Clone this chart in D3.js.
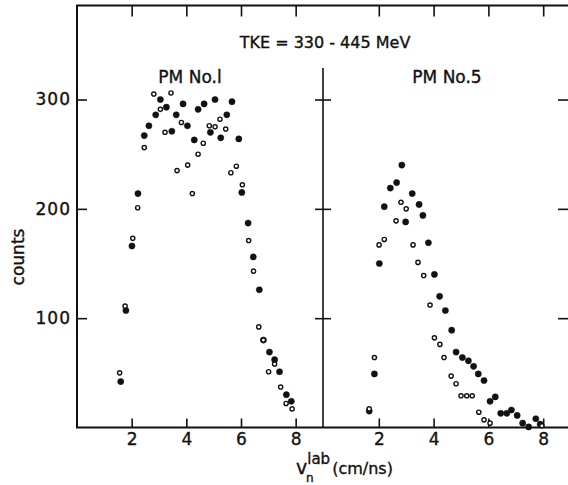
<!DOCTYPE html>
<html>
<head>
<meta charset="utf-8">
<script src="https://cdn.jsdelivr.net/npm/d3@7"></script>
<style>
body { margin: 0; background: #fff; }
svg text { font-family: "DejaVu Sans", sans-serif; fill: #111; stroke: #111; stroke-width: 0.35; }
</style>
</head>
<body>
<script>
// velocity ticks shared by both panels
var vTicks = [2, 4, 6, 8];
var countTicks = [100, 200, 300];

// PM No.1 : [v (cm/ns), counts]
var pm1Filled = [
  [1.60, 42], [1.79, 107], [2.01, 166], [2.23, 214], [2.46, 267], [2.63, 276],
  [2.88, 286], [3.05, 300], [3.27, 293], [3.47, 271], [3.63, 286], [3.88, 296],
  [4.04, 276], [4.29, 263], [4.43, 291], [4.65, 296], [4.88, 270], [5.05, 300],
  [5.26, 265], [5.48, 286], [5.67, 298], [5.92, 264], [6.03, 215], [6.26, 187],
  [6.45, 156], [6.67, 126], [6.82, 80], [7.04, 69], [7.23, 62], [7.41, 51],
  [7.66, 30], [7.84, 24]
];
var pm1Open = [
  [1.56, 50], [1.76, 111], [2.04, 173], [2.22, 201], [2.46, 256], [2.81, 305],
  [3.05, 291], [3.22, 270], [3.44, 306], [3.66, 235], [3.82, 279], [4.05, 240],
  [4.22, 214], [4.43, 250], [4.62, 260], [4.84, 276], [5.05, 275], [5.23, 282],
  [5.44, 273], [5.63, 233], [5.83, 239], [6.05, 222], [6.28, 171], [6.46, 143],
  [6.65, 92], [6.82, 80], [7.01, 51], [7.23, 58], [7.45, 37], [7.65, 22], [7.87, 17]
];

// PM No.5
var pm5Filled = [
  [1.65, 15], [1.84, 49], [2.02, 150], [2.20, 202], [2.42, 219], [2.65, 224],
  [2.84, 240], [2.98, 188], [3.22, 214], [3.47, 204], [3.61, 194], [3.81, 169],
  [4.03, 140], [4.22, 120], [4.43, 107], [4.66, 89], [4.82, 69], [5.05, 64],
  [5.27, 61], [5.46, 56], [5.63, 49], [5.84, 43], [6.06, 24], [6.25, 28],
  [6.45, 13], [6.67, 13], [6.84, 16], [7.05, 11], [7.25, 4], [7.47, 0.5],
  [7.73, 8], [7.89, 3]
];
var pm5Open = [
  [1.65, 17], [1.84, 64], [2.01, 167], [2.20, 172], [2.63, 189], [2.81, 206],
  [3.00, 200], [3.25, 167], [3.43, 151], [3.64, 139], [3.87, 112], [4.03, 82],
  [4.23, 76], [4.38, 64], [4.64, 47], [4.82, 40], [5.00, 29], [5.21, 29],
  [5.41, 29], [5.65, 14], [5.84, 7], [6.06, 4], [7.95, 1.5]
];

var width = 568, height = 485;

var svg = d3.select("body").append("svg")
    .attr("width", width)
    .attr("height", height);

var y = d3.scaleLinear().domain([0, 386]).range([427.5, 5.5]);
var xL = d3.scaleLinear().domain([0, 9]).range([77, 323]);
var xR = d3.scaleLinear().domain([0, 9]).range([324, 570.6]);

var ink = "#111";

// frame
svg.append("line").attr("x1", 77).attr("x2", 77).attr("y1", y(386)).attr("y2", y(0))
    .attr("stroke", ink).attr("stroke-width", 2);
svg.append("line").attr("x1", 76).attr("x2", 568).attr("y1", y(386)).attr("y2", y(386))
    .attr("stroke", ink).attr("stroke-width", 2);
svg.append("line").attr("x1", 76).attr("x2", 568).attr("y1", y(0)).attr("y2", y(0))
    .attr("stroke", ink).attr("stroke-width", 2);
// divider between panels
svg.append("line").attr("x1", 323).attr("x2", 323).attr("y1", 68).attr("y2", y(0))
    .attr("stroke", ink).attr("stroke-width", 1.6);

function styleAxis(g) {
  g.select(".domain").remove();
  g.selectAll(".tick line").attr("stroke", ink).attr("stroke-width", 1.6);
  g.selectAll(".tick text").attr("font-size", 17).attr("fill", ink)
    .attr("font-family", "DejaVu Sans, sans-serif");
}

// bottom and top axes
[xL, xR].forEach(function (x) {
  svg.append("g")
      .attr("transform", "translate(0," + y(0) + ")")
      .call(d3.axisBottom(x).tickValues(vTicks).tickSize(-9).tickSizeOuter(0).tickPadding(5))
      .call(styleAxis);
  svg.append("g")
      .attr("transform", "translate(0," + y(386) + ")")
      .call(d3.axisTop(x).tickValues(vTicks).tickSize(-11).tickSizeOuter(0).tickFormat(""))
      .call(styleAxis);
});

// left y axis
svg.append("g")
    .attr("transform", "translate(77,0)")
    .call(d3.axisLeft(y).tickValues(countTicks).tickSize(-10).tickSizeOuter(0).tickPadding(6))
    .call(styleAxis)
    .selectAll(".tick text").attr("letter-spacing", 1);

// ticks crossing the divider
svg.append("g")
    .attr("transform", "translate(331,0)")
    .call(d3.axisLeft(y).tickValues(countTicks).tickSize(16).tickSizeOuter(0).tickFormat(""))
    .call(styleAxis);

// right side ticks (frame edge just off the page)
svg.append("g")
    .attr("transform", "translate(569,0)")
    .call(d3.axisLeft(y).tickValues(countTicks).tickSize(11).tickSizeOuter(0).tickFormat(""))
    .call(styleAxis);

// data
function drawPoints(data, x, filled) {
  svg.append("g").selectAll("circle")
      .data(data)
      .enter().append("circle")
      .attr("cx", function (d) { return x(d[0]); })
      .attr("cy", function (d) { return y(d[1]); })
      .attr("r", filled ? 3.1 : 2.1)
      .attr("fill", filled ? ink : "#fff")
      .attr("stroke", ink)
      .attr("stroke-width", filled ? 0.5 : 1.4);
}
drawPoints(pm1Filled, xL, true);
drawPoints(pm1Open, xL, false);
drawPoints(pm5Filled, xR, true);
drawPoints(pm5Open, xR, false);

// labels
svg.append("text").attr("x", 325).attr("y", 48).attr("text-anchor", "middle")
    .attr("font-size", 16).text("TKE = 330 - 445 MeV");
svg.append("text").attr("x", 190).attr("y", 83).attr("text-anchor", "middle")
    .attr("font-size", 17).text("PM No.l");
svg.append("text").attr("x", 447).attr("y", 83).attr("text-anchor", "middle")
    .attr("font-size", 17).text("PM No.5");

svg.append("text")
    .attr("transform", "translate(24,257) rotate(-90)")
    .attr("text-anchor", "middle")
    .attr("font-size", 17).text("counts");

var xl = svg.append("text").attr("x", 296).attr("y", 474).attr("font-size", 19);
xl.append("tspan").text("v");
xl.append("tspan").attr("font-size", 15).attr("dy", -10).text("lab");
xl.append("tspan").attr("font-size", 16).attr("dy", 10).attr("dx", 2).text("(cm/ns)");
svg.append("text").attr("x", 306).attr("y", 482).attr("font-size", 12).text("n");
</script>
</body>
</html>
